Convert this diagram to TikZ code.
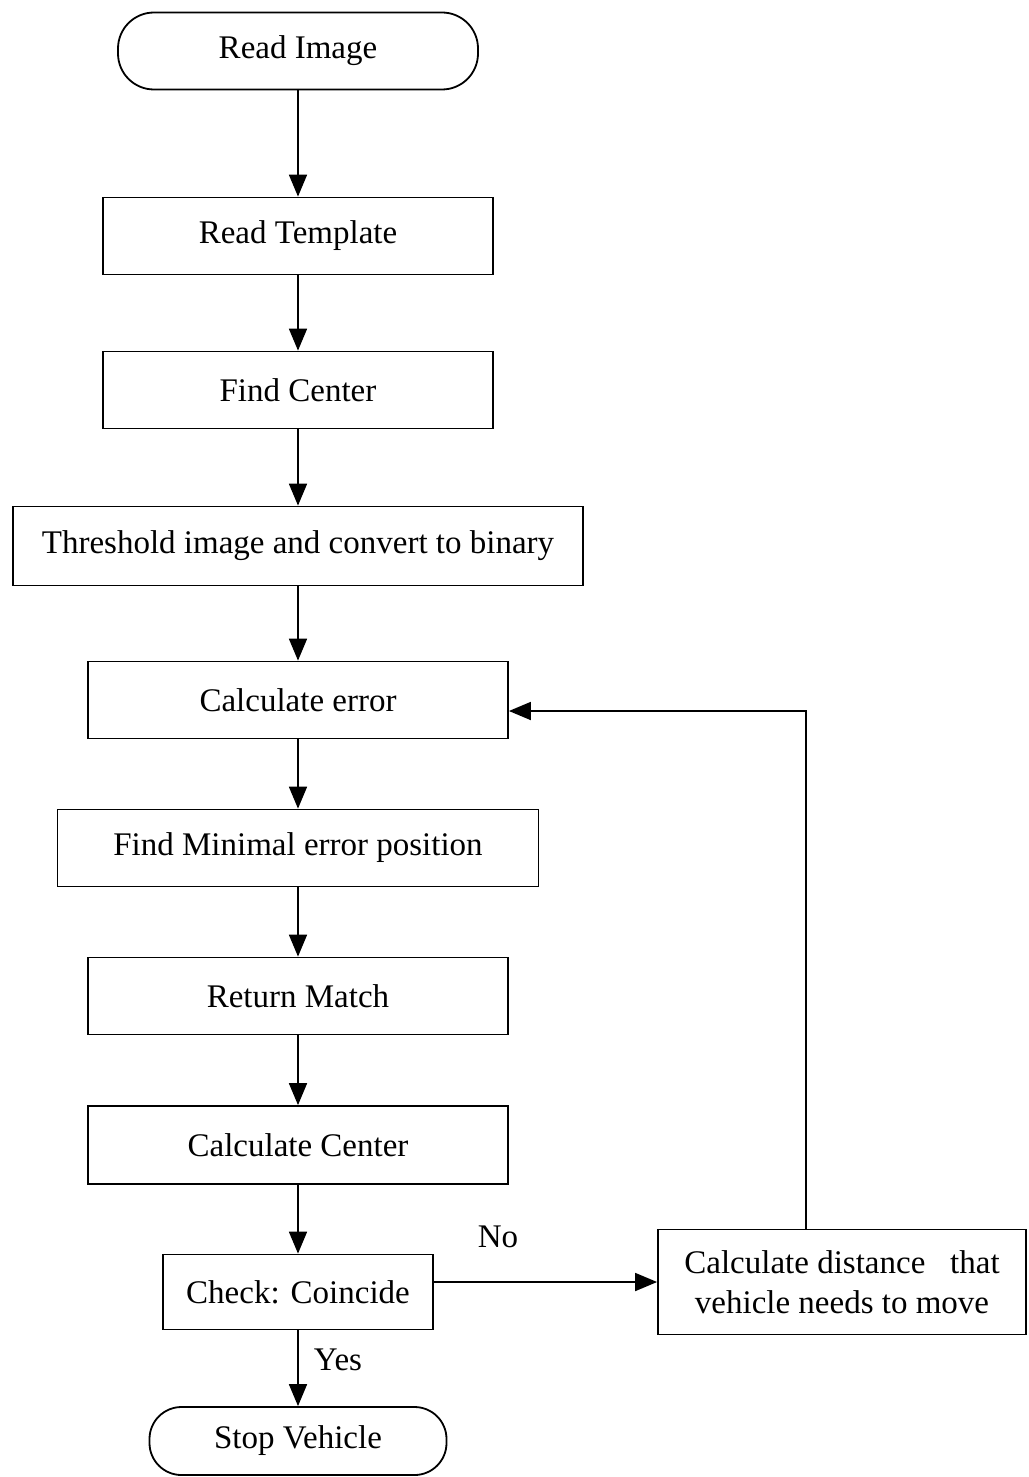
\documentclass[tikz,border=0pt]{standalone}
\usepackage{fontspec}
\setmainfont{Liberation Serif}
\usetikzlibrary{arrows.meta}
\tikzset{
  proc/.style={draw,line width=.9pt,minimum height=38.5pt,inner sep=2pt,font=\fontsize{16.5}{20}\selectfont},
  term/.style={proc,rounded corners=18pt},
  flow/.style={-{Triangle[length=11pt,width=9pt]},line width=.9pt}
}
\begin{document}
\begin{tikzpicture}[x=.5pt,y=-.5pt]
  \useasboundingbox (0,0) rectangle (1028,1477);
  % main column
  \node[term,minimum width=180pt] (readimg) at (298,51) {Read Image};
  \node[proc,minimum width=195pt] (readtpl) at (298,236) {Read Template};
  \node[proc,minimum width=195pt] (findctr) at (298,390) {Find Center};
  \node[proc,minimum width=285pt,minimum height=39.5pt] (thresh) at (298,546) {Threshold image and convert to binary};
  \node[proc,minimum width=210pt] (calcerr) at (298,700) {Calculate error};
  \node[proc,minimum width=240.5pt] (findmin) at (298,848) {Find Minimal error position};
  \node[proc,minimum width=210pt] (retmatch) at (298,996) {Return Match};
  \node[proc,minimum width=210pt,minimum height=39pt] (calcctr) at (298,1145) {Calculate Center};
  \node[proc,minimum width=135pt,minimum height=37.5pt] (check) at (298,1292) {Check: Coincide};
  \node[term,minimum width=148.5pt,minimum height=34pt,rounded corners=16pt] (stopveh) at (298,1441) {Stop Vehicle};
  % side branch
  \node[proc,minimum width=184pt,minimum height=52.5pt,align=center] (calcdist) at (842,1282) {Calculate distance~~ that\\vehicle needs to move};
  \coordinate (loopup) at (806,711);
  \foreach \a/\b in {readimg/readtpl,readtpl/findctr,findctr/thresh,thresh/calcerr,calcerr/findmin,findmin/retmatch,retmatch/calcctr,calcctr/check,check/stopveh}
    \draw[flow] (\a) -- (\b);
  \draw[flow] (check.east |- calcdist.west) -- (calcdist.west);
  \draw[flow] (calcdist.north -| loopup) -- (loopup) -- (calcerr.east |- loopup);
  \node[font=\fontsize{16.5}{20}\selectfont] (nolbl) at (498,1237) {No};
  \node[font=\fontsize{16.5}{20}\selectfont] (yeslbl) at (338,1360) {Yes};
\end{tikzpicture}
\end{document}
